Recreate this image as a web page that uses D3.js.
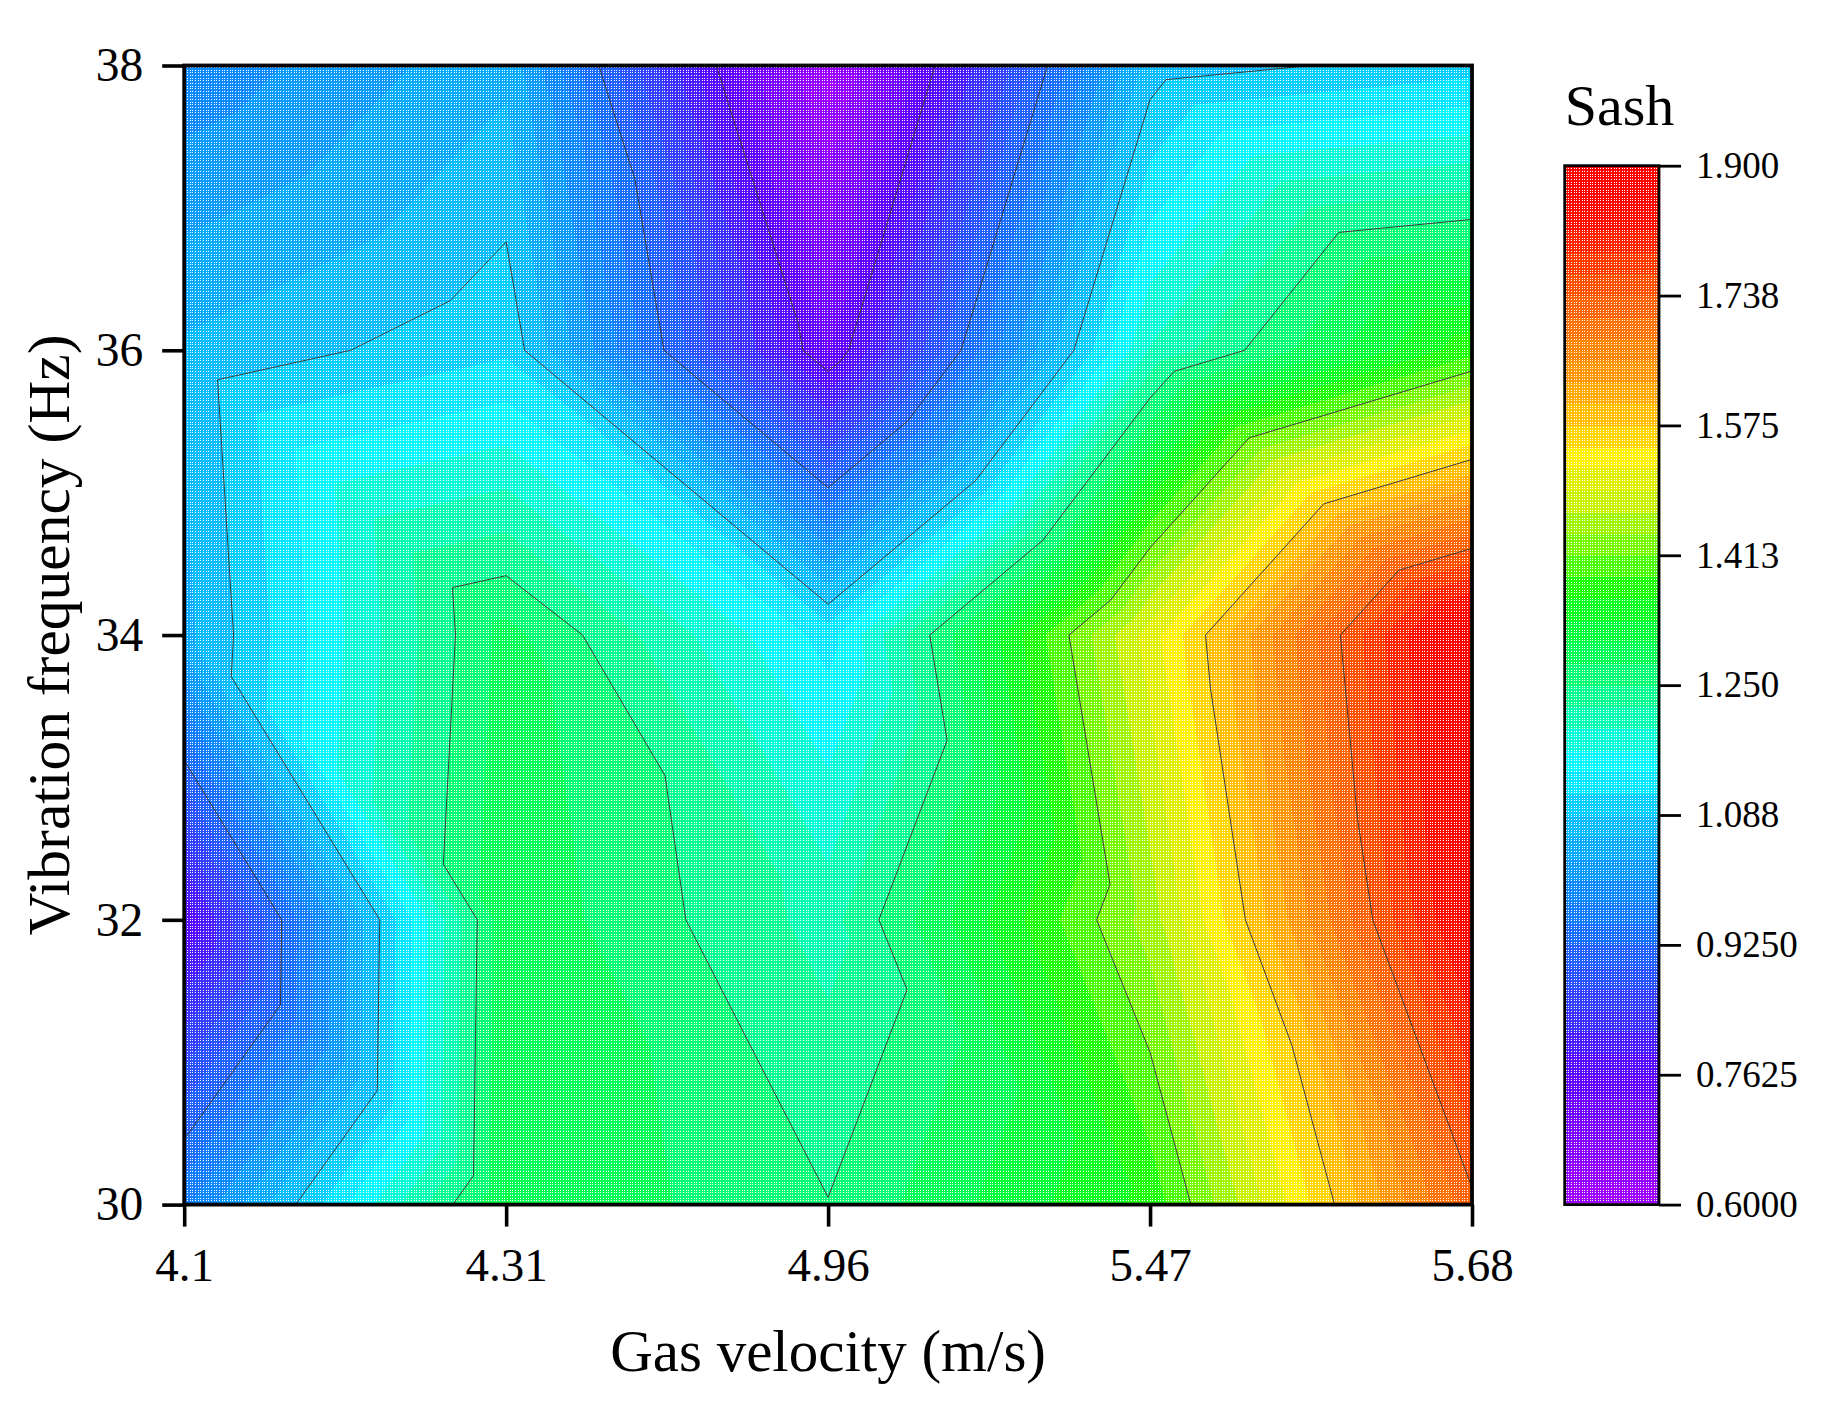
<!DOCTYPE html>
<html><head><meta charset="utf-8">
<script src="https://cdn.jsdelivr.net/npm/d3@7/dist/d3.min.js"></script>
<style>html,body{margin:0;padding:0;background:#fff}svg{display:block}text{font-family:"Liberation Serif",serif;fill:#000}</style>
</head><body><svg id="c" width="1832" height="1416"></svg>
<script>
const gasVelocity = ["4.1","4.31","4.96","5.47","5.68"];
const frequencyRows = [38,36,34,32,30];
const sash38 = [0.986,1.053,0.608,1.073,1.103];
const sash36 = [1.065,1.1095,0.733,1.198,1.375];
const sash34 = [1.052,1.287,1.131,1.508,1.897];
const sash32 = [0.763,1.298,1.212,1.453,1.865];
const sash30 = [0.973,1.305,1.251,1.367,1.73];
const frequencyTicks = [30,32,34,36,38];
const barTickValues = [0.6,0.7625,0.925,1.0875,1.25,1.4125,1.575,1.7375,1.9];
const barTickLabels = ["0.6000","0.7625","0.9250","1.088","1.250","1.413","1.575","1.738","1.900"];
const contourLevels = [0.7625,0.925,1.088,1.25,1.413,1.575,1.738];
const stopValues = [0.6,0.68,0.7625,0.84,0.925,1.0,1.088,1.156,1.21,1.25,1.33,1.375,1.42,1.48,1.537,1.575,1.65,1.738,1.84,1.9];
const stopColors = ["#a400ff","#8000ff","#5c00ff","#3838ff","#1e68ff","#0c90ff","#00c4ff","#00ffff","#00ffb0","#00ff80","#00ff30","#20ff00","#70f800","#c8f000","#fff000","#ffc800","#ff9000","#ff5c00","#ff0800","#ff0000"];
const bandCount = 48;

const grid = [sash38,sash36,sash34,sash32,sash30];
const P = {l:184.2,r:1472,t:65.5,b:1204.6};
const B = {l:1564.7,r:1659,t:165.7,b:1204.6};
const svg = d3.select("#c");
const x = d3.scalePoint().domain(gasVelocity).range([P.l,P.r]);
const xi = d3.scaleLinear().domain([0,gasVelocity.length-1]).range([P.l,P.r]);
const y = d3.scaleLinear().domain([30,38]).range([P.b,P.t]);
const yBar = d3.scaleLinear().domain([0.6,1.9]).range([B.b,B.t]);
const color = d3.scaleLinear().domain(stopValues).range(stopColors).interpolate(d3.interpolateRgb);
const step = 1.3/bandCount;
const levels = d3.range(bandCount).map(i=>0.6+i*step);

const defs = svg.append("defs");
const pat = defs.append("pattern").attr("id","dots").attr("patternUnits","userSpaceOnUse").attr("width",8).attr("height",8);
[0,3,6].forEach(a=>[0,3,6].forEach(b=>pat.append("rect").attr("x",a).attr("y",b).attr("width",1).attr("height",1).attr("fill","#fff").attr("shape-rendering","crispEdges")));
defs.append("clipPath").attr("id","plotClip").append("rect").attr("x",P.l).attr("y",P.t).attr("width",P.r-P.l).attr("height",P.b-P.t);

// triangulated grid, every cell split along its top-left to bottom-right diagonal
const tris = [];
for(let r=0;r<frequencyRows.length-1;r++)for(let c=0;c<gasVelocity.length-1;c++){
  const n=(cc,rr)=>({c:cc,f:frequencyRows[rr],v:grid[rr][cc]});
  tris.push([n(c,r),n(c+1,r),n(c+1,r+1)]);
  tris.push([n(c,r),n(c,r+1),n(c+1,r+1)]);
}
const lerp=(a,b,L)=>{const t=(L-a.v)/(b.v-a.v);return {c:a.c+t*(b.c-a.c),f:a.f+t*(b.f-a.f),v:L};};
function clipAbove(tri,L){
  const out=[];
  tri.forEach((a,i)=>{
    const b=tri[(i+1)%tri.length];
    if(a.v>=L)out.push(a);
    if((a.v>=L)!==(b.v>=L))out.push(lerp(a,b,L));
  });
  return out;
}
const poly=d3.line().x(d=>xi(d.c)).y(d=>y(d.f));
const plot=svg.append("g").attr("clip-path","url(#plotClip)");
plot.selectAll("path.band").data(levels).join("path").attr("class","band")
  .attr("d",L=>tris.map(t=>{const p=clipAbove(t,L);return p.length>2?poly(p)+"Z":"";}).join(""))
  .attr("fill",L=>color(L+step/2)).attr("stroke","none").attr("shape-rendering","crispEdges");
plot.append("rect").attr("x",P.l).attr("y",P.t).attr("width",P.r-P.l).attr("height",P.b-P.t).attr("fill","url(#dots)");
plot.selectAll("path.iso").data(contourLevels).join("path").attr("class","iso")
  .attr("d",L=>tris.map(t=>{
    const s=[];
    t.forEach((a,i)=>{const b=t[(i+1)%3];if((a.v>=L)!==(b.v>=L))s.push(lerp(a,b,L));});
    return s.length===2?poly(s):"";
  }).join(""))
  .attr("fill","none").attr("stroke","#3c3c3c").attr("stroke-width",1);

svg.append("rect").attr("x",P.l).attr("y",P.t).attr("width",P.r-P.l).attr("height",P.b-P.t).attr("fill","none").attr("stroke","#000").attr("stroke-width",3.8);

function styleAxis(g,size,w){
  g.selectAll(".domain").remove();
  g.selectAll("line").attr("stroke","#000").attr("stroke-width",w);
  g.selectAll("text").attr("font-size",size).attr("font-family","Liberation Serif").attr("fill","#000");
}
svg.append("g").attr("transform",`translate(0,${P.b})`).call(d3.axisBottom(x).tickSize(22).tickPadding(21)).call(g=>styleAxis(g,47,3.6));
svg.append("g").attr("transform",`translate(${P.l},0)`).call(d3.axisLeft(y).tickValues(frequencyTicks).tickFormat(d3.format("d")).tickSize(22).tickPadding(19)).call(g=>styleAxis(g,47.5,3.6));

// colour bar
const bar=svg.append("g");
bar.selectAll("rect.b").data(levels).join("rect").attr("class","b")
  .attr("x",B.l).attr("width",B.r-B.l)
  .attr("y",L=>yBar(L+step)).attr("height",L=>yBar(L)-yBar(L+step)+0.5)
  .attr("fill",L=>color(L+step/2)).attr("shape-rendering","crispEdges");
bar.append("rect").attr("x",B.l).attr("y",B.t).attr("width",B.r-B.l).attr("height",B.b-B.t).attr("fill","url(#dots)");
bar.append("rect").attr("x",B.l).attr("y",B.t).attr("width",B.r-B.l).attr("height",B.b-B.t).attr("fill","none").attr("stroke","#000").attr("stroke-width",2.8);
svg.append("g").attr("transform",`translate(${B.r},0)`).call(d3.axisRight(yBar).tickValues(barTickValues).tickFormat((d,i)=>barTickLabels[i]).tickSize(22).tickPadding(15))
  .call(g=>styleAxis(g,37,2.8));

svg.append("text").attr("x",(P.l+P.r)/2).attr("y",1371).attr("text-anchor","middle").attr("font-size",59).text("Gas velocity (m/s)");
svg.append("text").attr("transform",`translate(69,${(P.t+P.b)/2}) rotate(-90)`).attr("text-anchor","middle").attr("font-size",59.5).text("Vibration frequency (Hz)");
svg.append("text").attr("x",B.l).attr("y",125).attr("font-size",58).text("Sash");
</script></body></html>
